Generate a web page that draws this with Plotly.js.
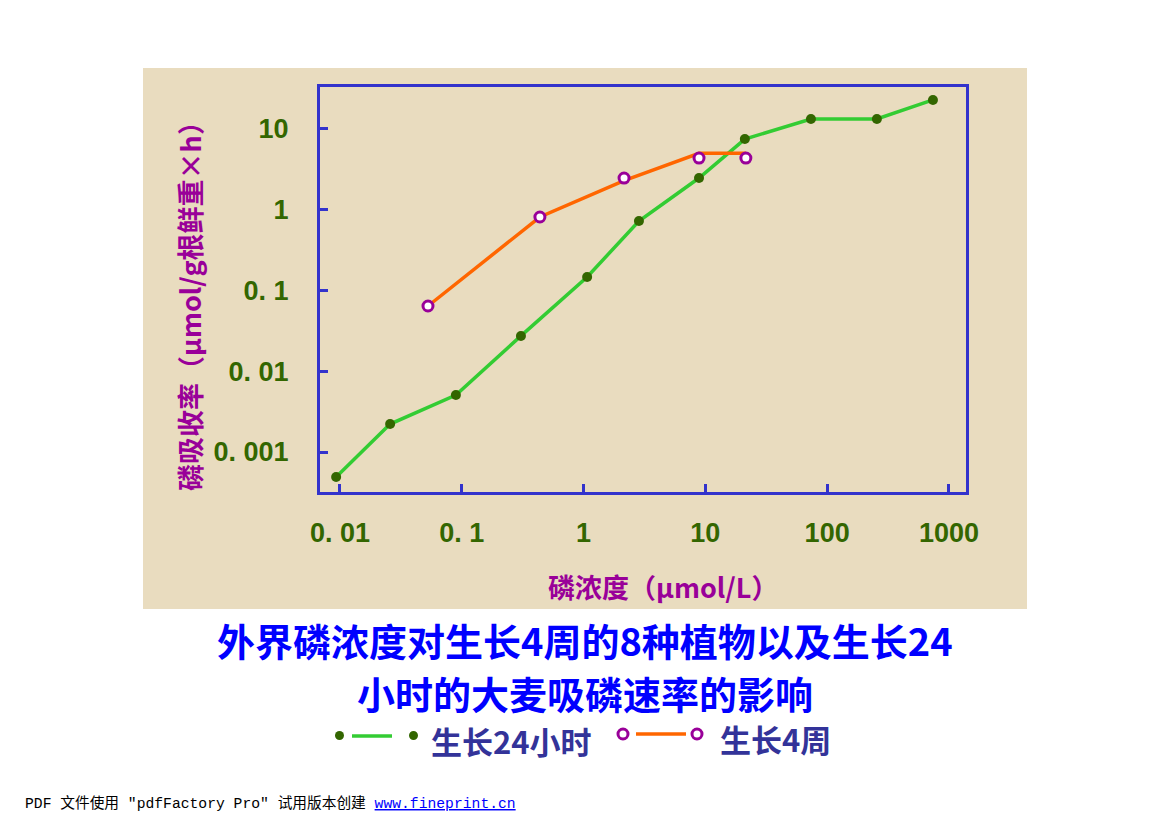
<!DOCTYPE html>
<html><head><meta charset="utf-8">
<script src="https://cdn.plot.ly/plotly-3.0.1.min.js"></script>
<style>html,body{margin:0;padding:0;background:#fff;}#chart{width:1169px;height:826px;}</style>
</head><body><div id="chart"></div>
<script>
// Data
const barley24hX = [0.0093, 0.0258, 0.0895, 0.306, 1.07, 2.85, 8.87, 21.1, 73.6, 256, 739];
const barley24hY = [0.00049, 0.00222, 0.00508, 0.0274, 0.147, 0.726, 2.47, 7.5, 13.3, 13.3, 22.9];
const plants4wX = [0.0528, 0.438, 2.15, 8.87, 21.5];
const plants4wY = [0.0643, 0.813, 2.47, 4.37, 4.37];
const plants4wLineY = [0.0643, 0.813, 2.3, 5.0, 5.0];
const xTickVals = [0.01, 0.1, 1, 10, 100, 1000];
const xTickText = ['0. 01', '0. 1', '1', '10', '100', '1000'];
const yTickVals = [0.001, 0.01, 0.1, 1, 10];
const yTickText = ['0. 001', '0. 01', '0. 1', '1', '10'];
const legendNames = ['生长24小时', '生长4周'];
const titleLines = ['外界磷浓度对生长4周的8种植物以及生长24', '小时的大麦吸磷速率的影响'];

const cjk = '"Noto Sans CJK SC", "Liberation Serif", serif';
const tickFont = {family: '"Liberation Sans", Arial, sans-serif', size: 27, color: '#336600', weight: 'bold'};

const traces = [
  {x: barley24hX, y: barley24hY, type: 'scatter', mode: 'lines+markers', name: legendNames[0],
   line: {color: '#33cc33', width: 3.5}, marker: {color: '#336600', size: 10}},
  {x: plants4wX, y: plants4wLineY, type: 'scatter', mode: 'lines', name: legendNames[1],
   line: {color: '#ff6600', width: 3.5}, showlegend: false},
  {x: plants4wX, y: plants4wY, type: 'scatter', mode: 'markers', name: legendNames[1],
   marker: {color: '#ffffff', size: 10, symbol: 'circle', line: {color: '#990099', width: 3}}}
];

const axisCommon = {type: 'log', showgrid: false, zeroline: false, showline: true, mirror: true,
  linecolor: '#3333cc', linewidth: 3, ticks: 'inside', ticklen: 8, tickwidth: 3, tickcolor: '#3333cc',
  tickfont: tickFont};

const px = v => (v - 320) / 646;
const py = v => (492 - v) / 405;

const layout = {
  width: 1169, height: 826,
  margin: {l: 320, r: 203, t: 87, b: 334},
  paper_bgcolor: '#ffffff', plot_bgcolor: '#ffffcc',
  showlegend: false,
  xaxis: Object.assign({}, axisCommon, {range: [-2.164, 3.14], tickvals: xTickVals, ticktext: xTickText, ticklabelstandoff: 15}),
  yaxis: Object.assign({}, axisCommon, {range: [-3.495, 1.52], tickvals: yTickVals, ticktext: yTickText, ticklabelstandoff: 23}),
  shapes: [
    {type: 'rect', xref: 'paper', yref: 'paper', layer: 'below',
     x0: px(143), x1: px(1027), y0: py(609), y1: py(68),
     fillcolor: '#e9dcbf', line: {width: 0}},
    // legend glyphs
    {type: 'line', xref: 'paper', yref: 'paper', x0: px(352), x1: px(392), y0: py(736), y1: py(736), line: {color: '#33cc33', width: 3.5}},
    {type: 'circle', xref: 'paper', yref: 'paper', x0: px(335), x1: px(344), y0: py(740), y1: py(731), fillcolor: '#336600', line: {width: 0}},
    {type: 'circle', xref: 'paper', yref: 'paper', x0: px(409), x1: px(418), y0: py(740), y1: py(731), fillcolor: '#336600', line: {width: 0}},
    {type: 'line', xref: 'paper', yref: 'paper', x0: px(636), x1: px(686), y0: py(734), y1: py(734), line: {color: '#ff6600', width: 3.5}},
    {type: 'circle', xref: 'paper', yref: 'paper', x0: px(618), x1: px(628), y0: py(739), y1: py(729), fillcolor: '#ffffff', line: {color: '#990099', width: 3}},
    {type: 'circle', xref: 'paper', yref: 'paper', x0: px(692), x1: px(702), y0: py(739), y1: py(729), fillcolor: '#ffffff', line: {color: '#990099', width: 3}}
  ],
  annotations: [
    {text: '磷吸收率（μmol/g根鲜重×h）', xref: 'paper', yref: 'paper', x: px(189), y: py(300),
     textangle: -90, showarrow: false, xanchor: 'center', yanchor: 'middle',
     font: {family: cjk, size: 27, color: '#990099', weight: 'bold'}},
    {text: '磷浓度（μmol/L）', xref: 'paper', yref: 'paper', x: px(663), y: py(586),
     showarrow: false, xanchor: 'center', yanchor: 'middle',
     font: {family: cjk, size: 27, color: '#990099', weight: 'bold'}},
    {text: titleLines[0], xref: 'paper', yref: 'paper', x: px(585), y: py(639),
     showarrow: false, xanchor: 'center', yanchor: 'middle',
     font: {family: cjk, size: 38, color: '#0000ff', weight: 'bold'}},
    {text: titleLines[1], xref: 'paper', yref: 'paper', x: px(585), y: py(692),
     showarrow: false, xanchor: 'center', yanchor: 'middle',
     font: {family: cjk, size: 38, color: '#0000ff', weight: 'bold'}},
    {text: legendNames[0], xref: 'paper', yref: 'paper', x: px(429), y: py(740),
     showarrow: false, xanchor: 'left', yanchor: 'middle',
     font: {family: cjk, size: 31, color: '#333399', weight: 'bold'}},
    {text: legendNames[1], xref: 'paper', yref: 'paper', x: px(718), y: py(738),
     showarrow: false, xanchor: 'left', yanchor: 'middle',
     font: {family: cjk, size: 31, color: '#333399', weight: 'bold'}},
    {text: 'PDF 文件使用 "pdfFactory Pro" 试用版本创建 <a href="http://www.fineprint.cn" style="color:#0000ff"><u>www.fineprint.cn</u></a>',
     xref: 'paper', yref: 'paper', x: px(23), y: py(803),
     showarrow: false, xanchor: 'left', yanchor: 'middle',
     font: {family: '"Liberation Mono", "Noto Sans CJK SC", monospace', size: 14.7, color: '#000000'}}
  ]
};

Plotly.newPlot('chart', traces, layout, {displayModeBar: false, staticPlot: true});
</script>
</body></html>
